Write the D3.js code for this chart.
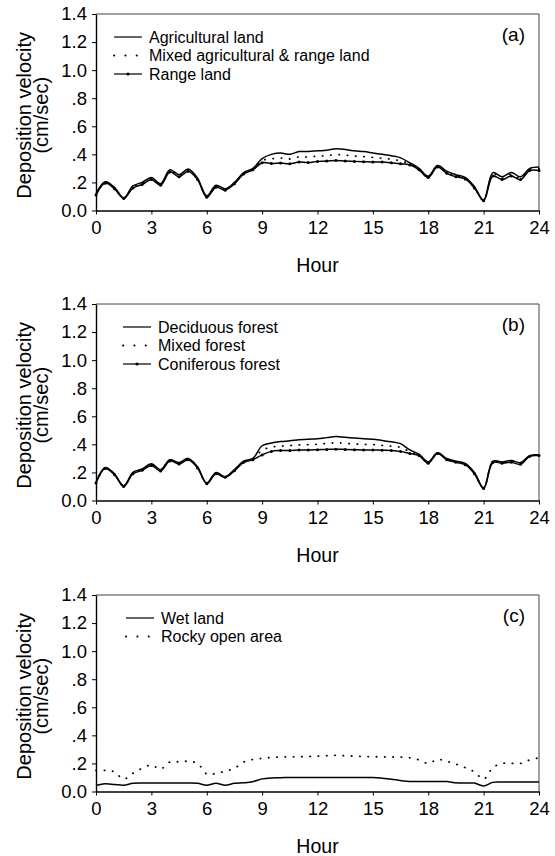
<!DOCTYPE html>
<html>
<head>
<meta charset="utf-8">
<script src="https://cdn.jsdelivr.net/npm/d3@7"></script>
<style>
    body { margin: 0; background: #fff; }
    svg { display: block; font-family: "Liberation Sans", Arial, sans-serif; }
</style>
</head>
<body>
<div id="chart"></div>
<script>
// size
var w = 555;
var h = 856;

// hours (x values, every half hour)
var hours = [0, 0.5, 1, 1.5, 2, 2.5, 3, 3.5, 4, 4.5, 5, 5.5, 6, 6.5, 7, 7.5, 8, 8.5, 9, 9.5,
    10, 10.5, 11, 11.5, 12, 12.5, 13, 13.5, 14, 14.5, 15, 15.5, 16, 16.5, 17, 17.5, 18, 18.5,
    19, 19.5, 20, 20.5, 21, 21.5, 22, 22.5, 23, 23.5, 24];

// panel (a)
var agricultural = [0.12, 0.205, 0.165, 0.09, 0.175, 0.20, 0.235, 0.19, 0.29, 0.255, 0.295, 0.23, 0.105, 0.18, 0.155, 0.20,
    0.27, 0.30, 0.37, 0.40, 0.41, 0.40, 0.42, 0.42, 0.425, 0.43, 0.44, 0.435, 0.425, 0.42, 0.41, 0.40, 0.39, 0.375,
    0.34, 0.30, 0.245, 0.32, 0.28, 0.255, 0.235, 0.17, 0.075, 0.27, 0.24, 0.27, 0.24, 0.30, 0.31];
var mixedAgRange = [0.115, 0.2, 0.16, 0.088, 0.168, 0.192, 0.228, 0.185, 0.282, 0.248, 0.288, 0.225, 0.1, 0.172, 0.15, 0.195,
    0.265, 0.295, 0.355, 0.368, 0.374, 0.367, 0.382, 0.381, 0.388, 0.391, 0.398, 0.394, 0.388, 0.384, 0.378, 0.372, 0.365, 0.354,
    0.332, 0.295, 0.24, 0.315, 0.272, 0.248, 0.23, 0.165, 0.072, 0.258, 0.23, 0.258, 0.23, 0.292, 0.298];
var rangeLand = [0.11, 0.195, 0.155, 0.085, 0.16, 0.185, 0.22, 0.18, 0.275, 0.24, 0.28, 0.22, 0.095, 0.165, 0.145, 0.19,
    0.26, 0.29, 0.34, 0.335, 0.338, 0.333, 0.345, 0.342, 0.35, 0.352, 0.357, 0.352, 0.35, 0.348, 0.345, 0.345, 0.34, 0.333,
    0.325, 0.29, 0.235, 0.31, 0.265, 0.24, 0.225, 0.16, 0.07, 0.245, 0.22, 0.245, 0.22, 0.285, 0.285];

// panel (b)
var deciduous = [0.13, 0.235, 0.19, 0.105, 0.2, 0.225, 0.262, 0.22, 0.29, 0.27, 0.3, 0.24, 0.125, 0.2, 0.17, 0.22,
    0.28, 0.3, 0.39, 0.41, 0.42, 0.425, 0.432, 0.437, 0.44, 0.448, 0.456, 0.45, 0.445, 0.44, 0.437, 0.428, 0.418, 0.405,
    0.36, 0.33, 0.275, 0.34, 0.3, 0.28, 0.265, 0.2, 0.09, 0.28, 0.275, 0.285, 0.27, 0.32, 0.325];
var mixedForest = [0.128, 0.232, 0.187, 0.103, 0.195, 0.22, 0.256, 0.215, 0.286, 0.265, 0.295, 0.236, 0.122, 0.195, 0.168, 0.216,
    0.276, 0.295, 0.358, 0.38, 0.388, 0.391, 0.396, 0.398, 0.401, 0.406, 0.411, 0.407, 0.403, 0.4, 0.398, 0.393, 0.387, 0.378,
    0.348, 0.325, 0.27, 0.338, 0.295, 0.276, 0.26, 0.195, 0.088, 0.275, 0.27, 0.278, 0.264, 0.318, 0.322];
var coniferous = [0.125, 0.228, 0.183, 0.1, 0.19, 0.215, 0.25, 0.21, 0.282, 0.26, 0.29, 0.232, 0.12, 0.19, 0.165, 0.212,
    0.272, 0.29, 0.325, 0.35, 0.356, 0.357, 0.36, 0.36, 0.362, 0.364, 0.366, 0.364, 0.362, 0.36, 0.36, 0.358, 0.357, 0.35,
    0.335, 0.32, 0.265, 0.335, 0.29, 0.272, 0.255, 0.19, 0.085, 0.27, 0.265, 0.272, 0.258, 0.315, 0.32];

// panel (c)
var wetLand = [0.043, 0.055, 0.05, 0.045, 0.058, 0.06, 0.06, 0.06, 0.06, 0.06, 0.06, 0.058, 0.045, 0.058, 0.045, 0.058,
    0.062, 0.07, 0.09, 0.097, 0.098, 0.1, 0.1, 0.1, 0.1, 0.1, 0.1, 0.1, 0.1, 0.1, 0.1, 0.095, 0.088, 0.078,
    0.071, 0.071, 0.071, 0.071, 0.071, 0.062, 0.06, 0.06, 0.04, 0.065, 0.067, 0.067, 0.067, 0.067, 0.067];
var rockyOpen = [0.15, 0.15, 0.14, 0.088, 0.13, 0.165, 0.188, 0.16, 0.21, 0.212, 0.215, 0.2, 0.125, 0.128, 0.145, 0.165,
    0.21, 0.228, 0.236, 0.242, 0.246, 0.247, 0.248, 0.25, 0.252, 0.255, 0.258, 0.255, 0.252, 0.25, 0.248, 0.247, 0.246, 0.245,
    0.24, 0.225, 0.2, 0.228, 0.215, 0.195, 0.17, 0.14, 0.088, 0.17, 0.2, 0.2, 0.2, 0.225, 0.24];

// ticks
var xTicks = [0, 3, 6, 9, 12, 15, 18, 21, 24];
var yTicks = [0, 0.2, 0.4, 0.6, 0.8, 1.0, 1.2, 1.4];
var yTickLabels = ["0.0", ".2", ".4", ".6", ".8", "1.0", "1.2", "1.4"];

// line styles: solid, dotted, solid with dots
var styles = {
    solid: { dash: null, marks: false },
    dotted: { dash: "0.3,8", marks: false },
    dotline: { dash: null, marks: true }
};

var panels = [
    { label: "(a)", top: 14, legendX: 113, series: [
        { name: "Agricultural land", values: agricultural, style: "solid" },
        { name: "Mixed agricultural & range land", values: mixedAgRange, style: "dotted" },
        { name: "Range land", values: rangeLand, style: "dotline" }
    ]},
    { label: "(b)", top: 304, legendX: 122, series: [
        { name: "Deciduous forest", values: deciduous, style: "solid" },
        { name: "Mixed forest", values: mixedForest, style: "dotted" },
        { name: "Coniferous forest", values: coniferous, style: "dotline" }
    ]},
    { label: "(c)", top: 595, legendX: 125, series: [
        { name: "Wet land", values: wetLand, style: "solid" },
        { name: "Rocky open area", values: rockyOpen, style: "dotted" }
    ]}
];

var left = 96, right = 539, plotH = 196.5;

var svg = d3.select("#chart")
    .append("svg")
    .attr("width", w)
    .attr("height", h);

var xScale = d3.scaleLinear()
    .domain([0, 24])
    .range([left, right]);

panels.forEach(function(p) {
    var yScale = d3.scaleLinear()
        .domain([0, 1.4])
        .range([p.top + plotH, p.top]);

    var g = svg.append("g");

    // frame (top and right)
    g.append("path")
        .attr("d", `M${left},${p.top}H${right}V${p.top + plotH}`)
        .attr("fill", "none")
        .attr("stroke", "#444")
        .attr("stroke-width", 1);

    // axes
    var xAxis = g.append("g")
        .attr("transform", `translate(0,${p.top + plotH})`)
        .call(d3.axisBottom(xScale).tickValues(xTicks).tickSize(4).tickPadding(6).tickSizeOuter(0));
    var yAxis = g.append("g")
        .attr("transform", `translate(${left},0)`)
        .call(d3.axisLeft(yScale).tickValues(yTicks).tickSize(4).tickPadding(5).tickSizeOuter(0)
            .tickFormat((d, i) => yTickLabels[i]));

    [xAxis, yAxis].forEach(function(a) {
        a.select(".domain").attr("stroke", "#000").attr("stroke-width", 1.4);
        a.selectAll(".tick line").attr("stroke", "#000").attr("stroke-width", 1);
        a.selectAll(".tick text")
            .attr("fill", "#000")
            .style("font-size", "18.5px")
            .style("font-family", "'Liberation Sans', Arial, sans-serif");
    });

    // axis titles
    g.append("text")
        .attr("x", (left + right) / 2)
        .attr("y", p.top + plotH + 61)
        .attr("text-anchor", "middle")
        .style("font-size", "19.5px")
        .text("Hour");

    var midY = p.top + plotH / 2 + 3;
    g.append("text")
        .attr("transform", `translate(31,${midY}) rotate(-90)`)
        .attr("text-anchor", "middle")
        .style("font-size", "20px")
        .text("Deposition velocity");
    g.append("text")
        .attr("transform", `translate(48,${midY}) rotate(-90)`)
        .attr("text-anchor", "middle")
        .style("font-size", "20px")
        .text("(cm/sec)");

    // panel label
    g.append("text")
        .attr("x", 525)
        .attr("y", p.top + 27)
        .attr("text-anchor", "end")
        .style("font-size", "19px")
        .text(p.label);

    var line = d3.line()
        .x((d, i) => xScale(hours[i]))
        .y(d => yScale(d))
        .curve(d3.curveCatmullRom.alpha(0.5));

    p.series.forEach(function(s, k) {
        var st = styles[s.style];
        g.append("path")
            .datum(s.values)
            .attr("d", line)
            .attr("fill", "none")
            .attr("stroke", "#000")
            .attr("stroke-width", st.dash ? 1.8 : 1.5)
            .attr("stroke-linecap", st.dash ? "round" : "butt")
            .attr("stroke-dasharray", st.dash);

        if (st.marks) {
            g.selectAll(".mark-" + k)
                .data(s.values)
                .enter()
                .append("circle")
                .attr("cx", (d, i) => xScale(hours[i]))
                .attr("cy", d => yScale(d))
                .attr("r", 1.5)
                .attr("fill", "#000");
        }

        // legend entry
        var ly = p.top + 23 + k * 18.5;
        g.append("line")
            .attr("x1", p.legendX + 1)
            .attr("x2", p.legendX + 29)
            .attr("y1", ly)
            .attr("y2", ly)
            .attr("stroke", "#000")
            .attr("stroke-width", st.dash ? 1.8 : 1.2)
            .attr("stroke-linecap", st.dash ? "round" : "butt")
            .attr("stroke-dasharray", st.dash ? "0.3,11" : null);
        if (st.marks) {
            g.append("circle")
                .attr("cx", p.legendX + 15)
                .attr("cy", ly)
                .attr("r", 1.6)
                .attr("fill", "#000");
        }
        g.append("text")
            .attr("x", p.legendX + 36)
            .attr("y", ly)
            .attr("dy", "0.35em")
            .style("font-size", "16px")
            .text(s.name);
    });
});
</script>
</body>
</html>
